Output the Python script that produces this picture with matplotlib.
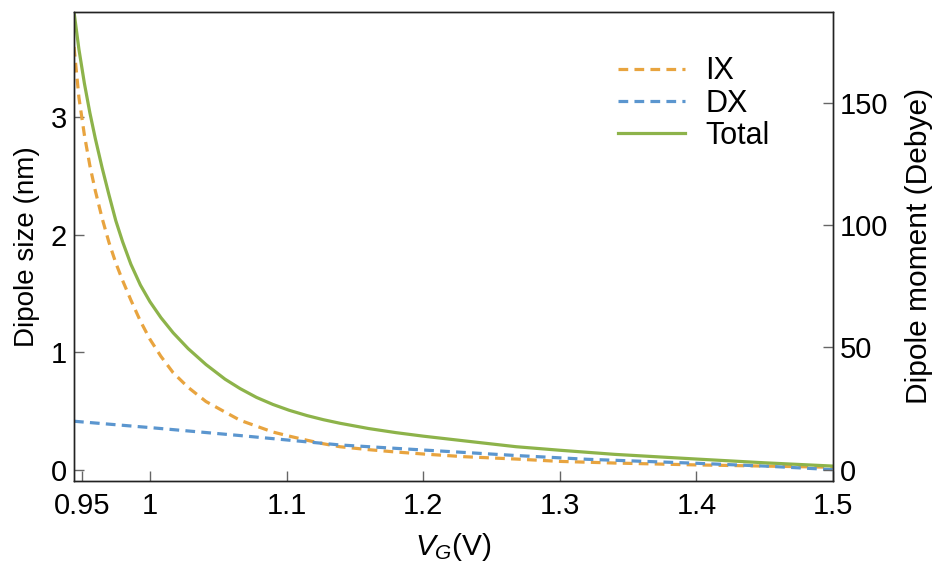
import numpy as np
import matplotlib
matplotlib.use("Agg")
import matplotlib.pyplot as plt

plt.rcParams['font.family'] = ['Liberation Sans', 'DejaVu Sans']
plt.rcParams['mathtext.fontset'] = 'custom'
plt.rcParams['mathtext.rm'] = 'Liberation Sans'
plt.rcParams['mathtext.it'] = 'Liberation Sans:italic'
plt.rcParams['lines.scale_dashes'] = False

# gate voltage (V)
vg = [0.9444, 0.948, 0.952, 0.956, 0.960, 0.965, 0.970, 0.975, 0.980, 0.986,
      0.993, 1.000, 1.008, 1.017, 1.028, 1.041, 1.055, 1.066, 1.078, 1.090,
      1.102, 1.115, 1.127, 1.139, 1.16, 1.18, 1.2, 1.23, 1.268, 1.3,
      1.34, 1.4, 1.45, 1.5]

# dipole sizes (nm)
ix = [3.60, 3.17, 2.85, 2.59, 2.375, 2.14, 1.935, 1.76, 1.61, 1.445,
      1.265, 1.11, 0.965, 0.825, 0.70, 0.58, 0.49, 0.42, 0.37, 0.32,
      0.285, 0.25, 0.22, 0.195, 0.17, 0.15, 0.133, 0.11, 0.09, 0.07,
      0.056, 0.04, 0.03, 0.02]

total = [3.90, 3.58, 3.29, 3.04, 2.82, 2.57, 2.34, 2.12, 1.94, 1.75,
         1.572, 1.43, 1.295, 1.165, 1.03, 0.895, 0.77, 0.69, 0.615, 0.555,
         0.505, 0.46, 0.425, 0.395, 0.35, 0.315, 0.285, 0.245, 0.195, 0.165,
         0.13, 0.09, 0.058, 0.03]

vg_dx = [0.9444, 1.0, 1.066, 1.139, 1.2, 1.268, 1.32, 1.4, 1.45, 1.5]
dx = [0.412, 0.358, 0.29, 0.21, 0.167, 0.12, 0.088, 0.054, 0.03, 0.0]

enm_to_debye = 48.03

c_ix = '#E8A43F'
c_dx = '#5B96CF'
c_tot = '#8DB34A'

fig = plt.figure(figsize=(9.39, 5.66), dpi=100)
ax = fig.add_axes([74/939, 85/566, 759/939, 469.3/566])

ax.plot(vg, ix, color=c_ix, lw=2.3, dashes=(7, 4.5), label='IX')
ax.plot(vg_dx, dx, color=c_dx, lw=2.3, dashes=(7, 4.5), label='DX')
ax.plot(vg, total, color=c_tot, lw=2.3, label='Total')

ax.set_xlim(0.9444, 1.5)
ax.set_ylim(-0.097, 3.90)
ax.set_xticks([0.95, 1, 1.1, 1.2, 1.3, 1.4, 1.5])
ax.set_xticklabels(['0.95', '1', '1.1', '1.2', '1.3', '1.4', '1.5'])
ax.set_yticks([0, 1, 2, 3])
ax.tick_params(direction='in', length=7.5, width=1, color='#666666',
               labelsize=21, top=False, right=False)
ax.tick_params(axis='x', pad=8)
ax.tick_params(axis='y', pad=5)
ax.set_xlabel(r'$V_G$(V)', fontsize=21.5, labelpad=8)
ax.set_ylabel('Dipole size (nm)', fontsize=20, labelpad=8)

ax2 = ax.twinx()
ax2.set_ylim(-0.097 * enm_to_debye, 3.90 * enm_to_debye)
ax2.set_yticks([0, 50, 100, 150])
ax2.tick_params(direction='in', length=7.5, width=1, color='#666666',
                labelsize=21, pad=5)
ax2.set_ylabel('Dipole moment (Debye)', fontsize=21.5, labelpad=12)

for a in (ax, ax2):
    for s in a.spines.values():
        s.set_linewidth(1.0)
        s.set_color('#222222')

ax.legend(loc='upper left', bbox_to_anchor=(0.717, 0.905), frameon=False,
          fontsize=22, handlelength=2.2, handletextpad=0.65,
          labelspacing=0.08, borderpad=0, borderaxespad=0)

fig.savefig('out.png', dpi=100)
